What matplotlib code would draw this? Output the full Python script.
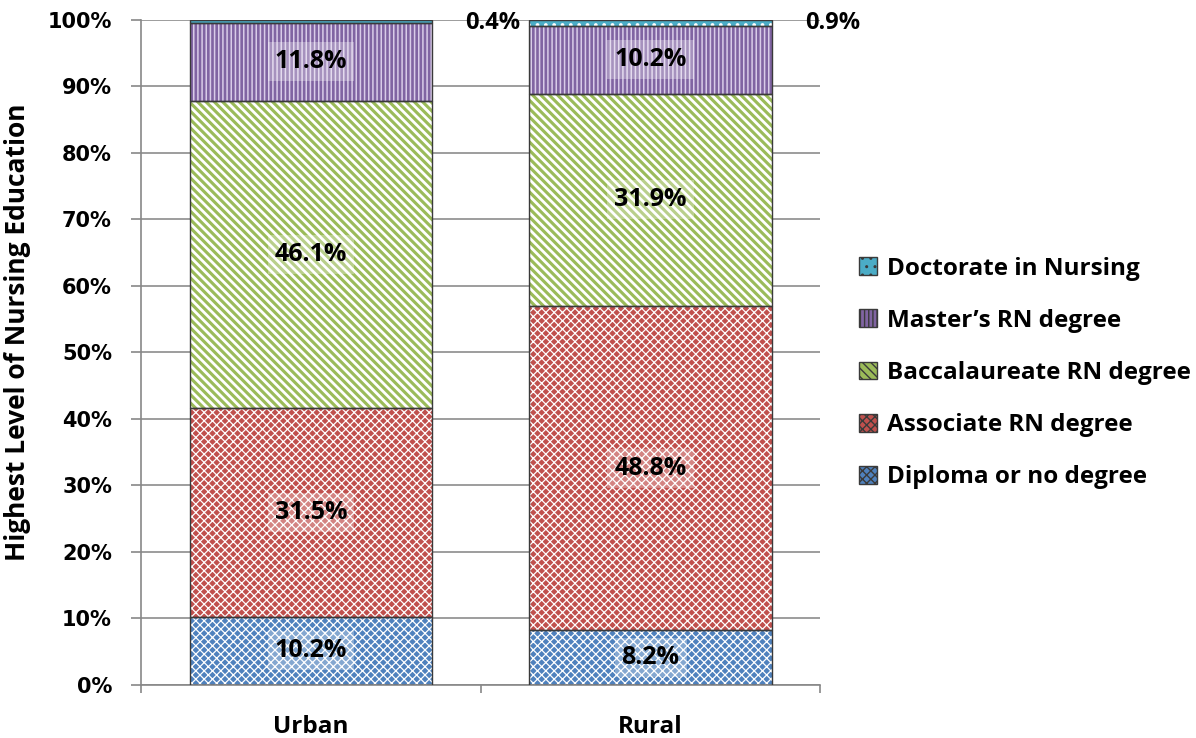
import matplotlib
matplotlib.use("Agg")
import matplotlib.pyplot as plt
from matplotlib.patches import Patch
import numpy as np

categories = ["Urban", "Rural"]
series_names = ["Diploma or no degree", "Associate RN degree", "Baccalaureate RN degree",
                "Master\u2019s RN degree", "Doctorate in Nursing"]
diploma = [10.2, 8.2]
associate = [31.5, 48.8]
baccalaureate = [46.1, 31.9]
masters = [11.8, 10.2]
doctorate = [0.4, 0.9]
yticks = [0, 10, 20, 30, 40, 50, 60, 70, 80, 90, 100]

series = [diploma, associate, baccalaureate, masters, doctorate]
colors = ["#4F81BD", "#C0504D", "#9BBB59", "#8064A2", "#4BACC6"]
hatches = ["xxxx", "xxxx", "\\\\\\\\", "||||", ".."]
hatch_colors = ["white", "white", "white", "#D9CCE8", "white"]
hatch_lws = [0.9, 0.9, 2.0, 1.1, 1.5]

FONT = "Open Sans"
fig = plt.figure(figsize=(11.96, 7.38), dpi=100)
ax = fig.add_axes([0.118, 0.072, 0.568, 0.901])

x = np.arange(len(categories))
width = 0.715
bottom = np.zeros(len(categories))
handles = []
for vals, col, h, hc, hlw, name in zip(series, colors, hatches, hatch_colors, hatch_lws, series_names):
    vals = np.array(vals)
    with plt.rc_context({"hatch.linewidth": hlw}):
        ax.bar(x, vals, width, bottom=bottom, color=col, edgecolor=hc, hatch=h, linewidth=0, zorder=2)
        ax.bar(x, vals, width, bottom=bottom, facecolor="none", edgecolor="#3a3a3a", linewidth=1.0, zorder=3)
        handles.append(Patch(facecolor=col, edgecolor="#3a3a3a", hatch=h, linewidth=1.0, label=name))
    for i, v in enumerate(vals):
        cy = bottom[i] + v / 2
        if name.startswith("Doctorate"):
            ax.text(x[i] + 0.455, 99.6, f"{v:.1f}%", ha="left", va="center", fontsize=17,
                    fontweight="bold", family=FONT, zorder=5)
        else:
            ax.text(x[i], cy, f"{v:.1f}%", ha="center", va="center", fontsize=18,
                    fontweight="bold", family=FONT, zorder=5,
                    bbox=dict(facecolor="white", alpha=0.3, edgecolor="none", pad=5))
    bottom += vals

ax.set_xlim(-0.5, 1.5)
ax.set_ylim(0, 100)
ax.set_yticks(yticks)
ax.set_yticklabels([f"{t}%" for t in yticks], fontsize=15, fontweight="bold", family="DejaVu Sans")
ax.set_xticks(x)
ax.set_xticklabels(categories, fontsize=17.5, fontweight="bold", family=FONT)
ax.set_xticks([-0.5, 0.5, 1.5], minor=True)
ax.tick_params(axis="x", which="major", length=0, pad=22)
ax.tick_params(axis="x", which="minor", length=6, color="#888888", width=1.2)
ax.tick_params(axis="y", length=7, color="#888888", width=1.2, pad=14)
ax.yaxis.grid(True, color="#8c8c8c", linewidth=1.2, zorder=0)
ax.set_axisbelow(True)
for s in ["top", "right"]:
    ax.spines[s].set_visible(False)
for s in ["left", "bottom"]:
    ax.spines[s].set_color("#888888")
    ax.spines[s].set_linewidth(1.2)
ax.set_ylabel("Highest Level of Nursing Education", fontsize=19, fontweight="bold", family=FONT)
ax.yaxis.set_label_coords(-0.162, 0.531)

with plt.rc_context({"hatch.linewidth": 1.0}):
    leg = fig.legend(handles=handles[::-1], loc="center left", bbox_to_anchor=(0.7, 0.4946),
                     frameon=False, prop={"family": FONT, "weight": "bold", "size": 17.5},
                     handlelength=0.75, handleheight=0.75, handletextpad=0.4, labelspacing=1.16)

fig.savefig("out.png", dpi=100)
